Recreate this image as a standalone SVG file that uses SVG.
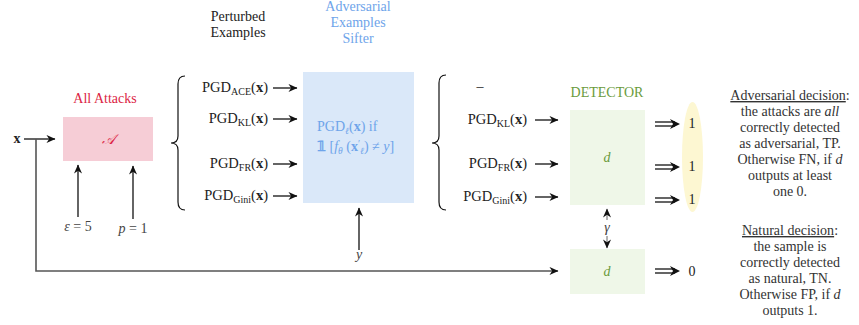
<svg xmlns="http://www.w3.org/2000/svg" width="859" height="325" viewBox="0 0 859 325">
<style>
text{font-family:"Liberation Serif","DejaVu Serif",serif;font-size:14px;fill:#222}
.lbl{fill:#444}
.red{fill:#dc1e44}
.blue{fill:#6ea4ea}
.green{fill:#6a9b3c}
.it{font-style:italic}
.b{font-weight:bold}
.sub{font-size:9.5px}
.pgd{font-size:14.5px}
.pgd .sub{font-size:10px}
.desc{fill:#333;text-anchor:middle}
.ln{stroke:#111;stroke-width:1.3;fill:none}
.gray{stroke:#555;stroke-width:1.6;fill:none}
.brace{stroke:#111;stroke-width:1.2;fill:none}
</style>
<defs>
<marker id="ah" viewBox="0 0 10 10" refX="9.5" refY="5" markerUnits="userSpaceOnUse" markerWidth="10" markerHeight="9" orient="auto">
<path d="M0,0.5 L10,5 L0,9.5 L3,5 z" fill="#111"/>
</marker>
<g id="darr">
<line x1="-25" y1="-2" x2="-5" y2="-2" stroke="#111" stroke-width="1.3"/>
<line x1="-25" y1="2" x2="-5" y2="2" stroke="#111" stroke-width="1.3"/>
<path d="M0,0 L-10,-5 L-7,0 L-10,5 z" fill="#111"/>
</g>
</defs>

<!-- column titles -->
<g id="title-perturbed">
<text x="238" y="21" text-anchor="middle">Perturbed</text>
<text x="238" y="37" text-anchor="middle">Examples</text>
</g>
<g id="title-sifter">
<text class="blue" x="358" y="11" text-anchor="middle">Adversarial</text>
<text class="blue" x="358" y="27" text-anchor="middle">Examples</text>
<text class="blue" x="358" y="43" text-anchor="middle">Sifter</text>
</g>

<!-- input x -->
<g id="input-x">
<text class="b" x="17" y="143" text-anchor="middle">x</text>
</g>

<!-- All attacks -->
<g id="attacks">
<text class="red" x="105" y="103" text-anchor="middle">All Attacks</text>
<rect x="63" y="117" width="90" height="44" fill="#f6cdd6"/>
<text class="red it" x="108" y="144" text-anchor="middle" font-family="'DejaVu Serif',serif">𝒜</text>
</g>
<g id="eps"><text class="lbl" x="78" y="231" text-anchor="middle"><tspan class="it">ε</tspan> = 5</text></g>
<g id="pval"><text class="lbl" x="133" y="233" text-anchor="middle"><tspan class="it">p</tspan> = 1</text></g>

<!-- perturbed examples -->
<g id="perturbed">
<path class="brace" d="M185,76 Q178,76 178,84 L178,136 Q178,143 171,143 Q178,143 178,150 L178,202 Q178,210 185,210"/>
<text class="pgd" x="268" y="92" text-anchor="end">PGD<tspan class="sub" dy="2.5">ACE</tspan><tspan dy="-2.5">(</tspan><tspan class="b">x</tspan>)</text>
<text class="pgd" x="268" y="123" text-anchor="end">PGD<tspan class="sub" dy="2.5">KL</tspan><tspan dy="-2.5">(</tspan><tspan class="b">x</tspan>)</text>
<text class="pgd" x="268" y="168" text-anchor="end">PGD<tspan class="sub" dy="2.5">FR</tspan><tspan dy="-2.5">(</tspan><tspan class="b">x</tspan>)</text>
<text class="pgd" x="268" y="200" text-anchor="end">PGD<tspan class="sub" dy="2.5">Gini</tspan><tspan dy="-2.5">(</tspan><tspan class="b">x</tspan>)</text>
</g>

<!-- sifter -->
<g id="sifter">
<rect x="303" y="72" width="111" height="131" fill="#dae8f9"/>
<text class="blue" x="317" y="131">PGD<tspan class="sub it" dy="3">ℓ</tspan><tspan dy="-3">(</tspan><tspan class="b">x</tspan>) if</text>
<text class="blue" x="317" y="151"><tspan font-weight="bold">𝟙</tspan> [<tspan class="it">f</tspan><tspan class="sub it" dy="3">θ</tspan><tspan dy="-3"> (</tspan><tspan class="b">x</tspan><tspan class="sub" dy="-4">′</tspan><tspan class="sub it" dy="7">ℓ</tspan><tspan dy="-3">) ≠ </tspan><tspan class="it">y</tspan>]</text>
</g>
<g id="ylabel"><text class="lbl it" x="359" y="259" text-anchor="middle">y</text></g>

<!-- sifted examples -->
<g id="sifted">
<path class="brace" d="M446,75 Q439,75 439,83 L439,136 Q439,143 432,143 Q439,143 439,150 L439,202 Q439,210 446,210"/>
<text x="480" y="91" text-anchor="middle">–</text>
<text class="pgd" x="527" y="124" text-anchor="end">PGD<tspan class="sub" dy="2.5">KL</tspan><tspan dy="-2.5">(</tspan><tspan class="b">x</tspan>)</text>
<text class="pgd" x="527" y="168" text-anchor="end">PGD<tspan class="sub" dy="2.5">FR</tspan><tspan dy="-2.5">(</tspan><tspan class="b">x</tspan>)</text>
<text class="pgd" x="527" y="201" text-anchor="end">PGD<tspan class="sub" dy="2.5">Gini</tspan><tspan dy="-2.5">(</tspan><tspan class="b">x</tspan>)</text>
</g>

<!-- detector -->
<g id="detector">
<text class="green" x="607" y="97" text-anchor="middle">DETECTOR</text>
<rect x="570" y="110" width="75" height="95" fill="#eff7e8"/>
<text class="green it" x="607" y="162" text-anchor="middle">d</text>
</g>
<g id="detector-natural">
<rect x="570" y="249" width="75" height="45" fill="#eff7e8"/>
<text class="green it" x="607" y="276" text-anchor="middle">d</text>
</g>
<g id="gamma"><text class="lbl it" x="607" y="232" text-anchor="middle">γ</text></g>

<!-- outputs -->
<g id="outputs-adv">
<ellipse cx="692.5" cy="157" rx="10.5" ry="55" fill="#fdf7d2"/>
<text x="692" y="128" text-anchor="middle">1</text>
<text x="692" y="171" text-anchor="middle">1</text>
<text x="692" y="204" text-anchor="middle">1</text>
</g>
<g id="output-nat">
<text x="692" y="276" text-anchor="middle">0</text>
</g>

<!-- decisions -->
<g id="adv-decision">
<text class="desc" x="790" y="100"><tspan text-decoration="underline">Adversarial decision</tspan>:</text>
<text class="desc" x="790" y="116">the attacks are <tspan class="it">all</tspan></text>
<text class="desc" x="790" y="132">correctly detected</text>
<text class="desc" x="790" y="148">as adversarial, TP.</text>
<text class="desc" x="790" y="164">Otherwise FN, if <tspan class="it">d</tspan></text>
<text class="desc" x="790" y="180">outputs at least</text>
<text class="desc" x="790" y="196">one 0.</text>
</g>
<g id="nat-decision">
<text class="desc" x="790" y="235"><tspan text-decoration="underline">Natural decision</tspan>:</text>
<text class="desc" x="790" y="251">the sample is</text>
<text class="desc" x="790" y="267">correctly detected</text>
<text class="desc" x="790" y="283">as natural, TN.</text>
<text class="desc" x="790" y="299">Otherwise FP, if <tspan class="it">d</tspan></text>
<text class="desc" x="790" y="315">outputs 1.</text>
</g>

<!-- connectors -->
<g id="connectors">
<line class="ln" x1="24" y1="139" x2="55" y2="139" marker-end="url(#ah)"/>
<polyline class="gray" points="36,139 36,271 558,271" marker-end="url(#ah)"/>
<line class="ln" x1="78" y1="217" x2="78" y2="165" marker-end="url(#ah)"/>
<line class="ln" x1="133" y1="219" x2="133" y2="166" marker-end="url(#ah)"/>
<line class="ln" x1="273" y1="88" x2="297" y2="88" marker-end="url(#ah)"/>
<line class="ln" x1="273" y1="119" x2="297" y2="119" marker-end="url(#ah)"/>
<line class="ln" x1="273" y1="164" x2="297" y2="164" marker-end="url(#ah)"/>
<line class="ln" x1="273" y1="196" x2="297" y2="196" marker-end="url(#ah)"/>
<line class="ln" x1="359" y1="250" x2="359" y2="208" marker-end="url(#ah)"/>
<line class="ln" x1="535" y1="120" x2="558" y2="120" marker-end="url(#ah)"/>
<line class="ln" x1="535" y1="164" x2="558" y2="164" marker-end="url(#ah)"/>
<line class="ln" x1="535" y1="197" x2="558" y2="197" marker-end="url(#ah)"/>
<line stroke="#666" stroke-width="1" x1="607" y1="220" x2="607" y2="209" marker-end="url(#ah)"/>
<line stroke="#666" stroke-width="1" x1="607" y1="236" x2="607" y2="248" marker-end="url(#ah)"/>
<use href="#darr" x="680" y="124"/>
<use href="#darr" x="680" y="167"/>
<use href="#darr" x="680" y="200"/>
<use href="#darr" x="680" y="271"/>
</g>
</svg>
